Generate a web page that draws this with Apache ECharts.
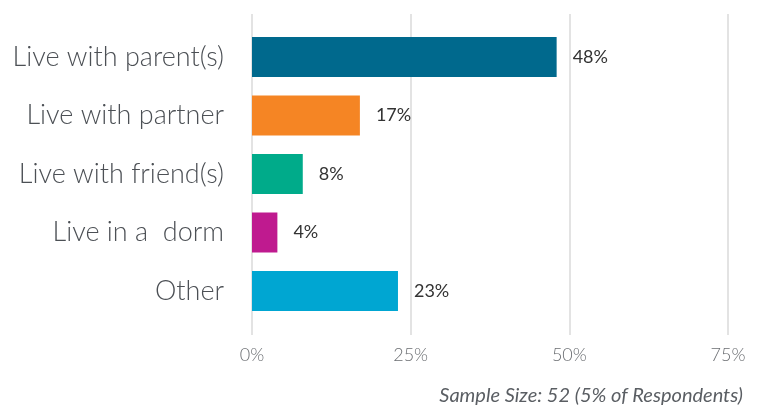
<!DOCTYPE html>
<html>
<head>
<meta charset="utf-8">
<script src="https://cdn.jsdelivr.net/npm/echarts@6/dist/echarts.min.js"></script>
<style>
  html, body { margin: 0; padding: 0; background: #ffffff; }
  #chart { width: 761px; height: 409px; }
</style>
</head>
<body>
<div id="chart"></div>
<script>
// Living situation of respondents (share, %)
const categories = ['Live with parent(s)', 'Live with partner', 'Live with friend(s)', 'Live in a  dorm', 'Other'];
const shares = [48, 17, 8, 4, 23];
const barColors = ['#00698d', '#f58524', '#00ab8a', '#bf1a8f', '#00a6d2'];
const axisTicks = [0, 25, 50, 75];
const footnote = 'Sample Size: 52 (5% of Respondents)';

const FONT = 'Lato, "Open Sans", sans-serif';
const chart = echarts.init(document.getElementById('chart'), null, { renderer: 'canvas' });

const option = {
  backgroundColor: '#ffffff',
  animation: false,
  grid: [
    // grid carrying the vertical guide lines and the percentage scale
    { left: 252, right: 33, top: 14, bottom: 74 },
    // grid carrying the bars and category names
    { left: 252, right: 33, top: 27.75, bottom: 88.75 }
  ],
  xAxis: [
    {
      gridIndex: 0,
      type: 'value',
      min: axisTicks[0],
      max: axisTicks[axisTicks.length - 1],
      interval: axisTicks[1] - axisTicks[0],
      axisLine: { show: false },
      axisTick: { show: false },
      splitLine: { show: true, lineStyle: { color: '#e3e3e3', width: 2 } },
      axisLabel: {
        formatter: '{value}%',
        color: '#6b6e72',
        fontFamily: FONT,
        fontWeight: 300,
        fontSize: 18,
        margin: 11
      }
    },
    {
      gridIndex: 1,
      type: 'value',
      min: axisTicks[0],
      max: axisTicks[axisTicks.length - 1],
      show: false
    }
  ],
  yAxis: [
    { gridIndex: 0, type: 'value', show: false },
    {
      gridIndex: 1,
      type: 'category',
      inverse: true,
      data: categories,
      axisLine: { show: false },
      axisTick: { show: false },
      splitLine: { show: false },
      axisLabel: {
        color: '#4c5055',
        fontFamily: FONT,
        fontWeight: 300,
        fontSize: 27,
        margin: 28
      }
    }
  ],
  series: [
    {
      type: 'bar',
      xAxisIndex: 1,
      yAxisIndex: 1,
      barWidth: 40,
      data: shares.map((v, i) => ({ value: v, itemStyle: { color: barColors[i] } })),
      label: {
        show: true,
        position: 'right',
        distance: 16,
        formatter: '{c}%',
        color: '#333333',
        fontFamily: FONT,
        fontSize: 18
      }
    }
  ],
  graphic: [
    {
      type: 'text',
      right: 18,
      top: 386,
      style: {
        text: footnote,
        fill: '#5a5e63',
        font: 'italic 20px ' + FONT
      }
    }
  ]
};

chart.setOption(option);
</script>
</body>
</html>
